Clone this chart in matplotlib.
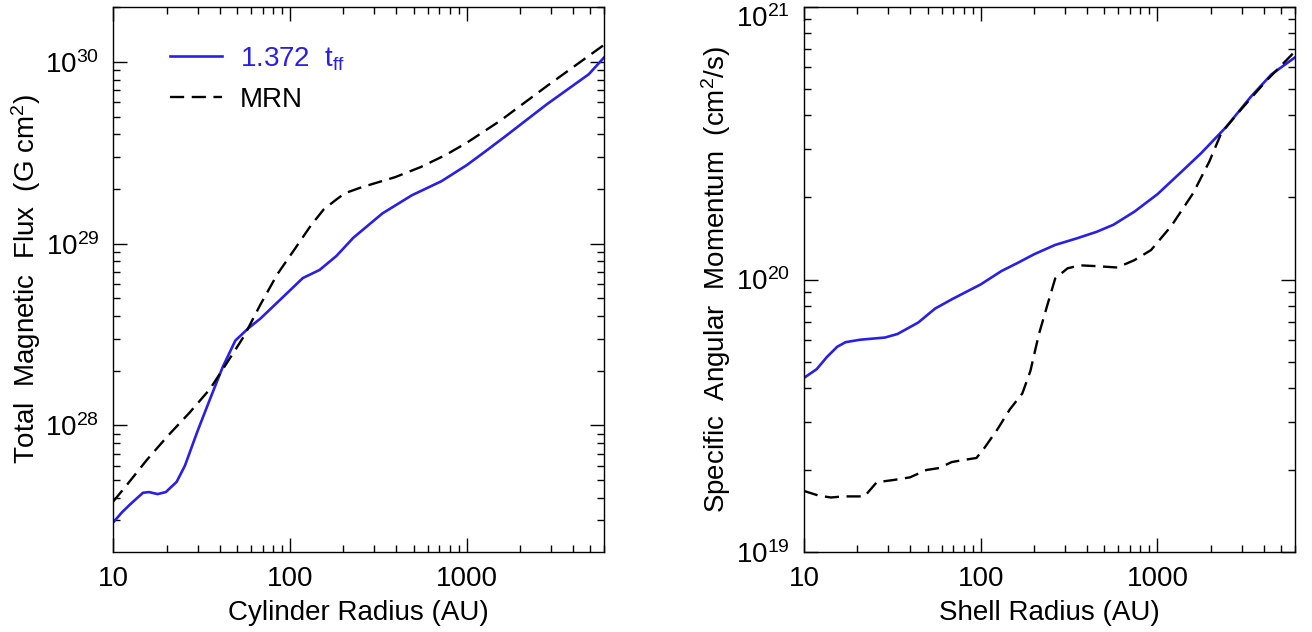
import numpy as np
import matplotlib.pyplot as plt
import matplotlib.ticker as ticker
from matplotlib.transforms import ScaledTranslation

plt.rcParams['font.family'] = ['Liberation Sans', 'DejaVu Sans']
plt.rcParams['mathtext.fontset'] = 'custom'
plt.rcParams['mathtext.rm'] = 'Liberation Sans'
plt.rcParams['mathtext.it'] = 'Liberation Sans'
plt.rcParams['font.size'] = 20

BLUE = '#2a1fe8'

# fluxo magnetico total vs raio do cilindro (AU, log10 G cm^2)
r_flux = [10, 11.2, 12.5, 14.7, 15.9, 17.8, 19.8, 22.8, 25.4, 29.9, 35.2, 41.6, 49.0,
          57.8, 68.1, 100, 118, 147, 183, 228, 333, 489, 718, 1000, 1240, 1640, 2830,
          4900, 6000]
logflux_tff = [27.467, 27.522, 27.567, 27.629, 27.633, 27.622, 27.633, 27.689, 27.778,
               27.967, 28.144, 28.322, 28.467, 28.533, 28.589, 28.744, 28.811, 28.856,
               28.933, 29.033, 29.167, 29.267, 29.344, 29.433, 29.500, 29.589, 29.767,
               29.933, 30.027]

r_flux_mrn = [10, 11.8, 15.5, 20.4, 26.8, 35.2, 43.9, 54.7, 68.1, 84.8, 105.6, 131, 155,
              183, 204, 254, 394, 548, 760, 1000, 1550, 2830, 6000]
logflux_mrn = [27.582, 27.667, 27.811, 27.944, 28.067, 28.200, 28.344, 28.489, 28.667,
               28.833, 28.967, 29.100, 29.189, 29.244, 29.278, 29.311, 29.367, 29.422,
               29.489, 29.556, 29.678, 29.867, 30.096]

# momento angular especifico vs raio da casca (AU, log10 cm^2/s)
r_j = [10, 11.8, 13.5, 15.4, 17.2, 20.8, 28.7, 33.8, 44.3, 55.1, 68.5, 100, 131, 162,
       201, 264, 346, 453, 564, 741, 1000, 1340, 1770, 2450, 3380, 4420, 6000]
logj_tff = [19.639, 19.671, 19.716, 19.753, 19.770, 19.779, 19.787, 19.800, 19.842,
            19.893, 19.927, 19.982, 20.031, 20.061, 20.093, 20.127, 20.150, 20.175,
            20.201, 20.249, 20.313, 20.390, 20.464, 20.560, 20.671, 20.753, 20.815]

r_j_mrn = [10, 12.1, 14.2, 16.7, 22.0, 25.8, 32.0, 39.8, 49.4, 58.1, 68.5, 80.5, 94.6,
           105, 124, 146, 172, 191, 213, 237, 264, 310, 364, 453, 593, 741, 920, 1200,
           1590, 1970, 2300, 3000, 4140, 6000]
logj_mrn = [19.224, 19.207, 19.200, 19.204, 19.204, 19.256, 19.264, 19.274, 19.301,
            19.308, 19.330, 19.338, 19.345, 19.382, 19.449, 19.523, 19.582, 19.664,
            19.797, 19.901, 20.004, 20.041, 20.052, 20.049, 20.044, 20.071, 20.108,
            20.197, 20.316, 20.434, 20.538, 20.627, 20.730, 20.837]


def estilo(ax, ylim):
    ax.set_xscale('log')
    ax.set_yscale('log')
    ax.set_xlim(10, 6000)
    ax.set_ylim(*ylim)
    ax.tick_params(which='both', direction='in', top=True, right=True, width=1)
    ax.tick_params(which='major', length=10, pad=10)
    ax.tick_params(which='minor', length=5)
    ax.xaxis.set_major_formatter(ticker.FuncFormatter(lambda v, p: f'{v:g}'))
    ax.xaxis.set_minor_formatter(ticker.NullFormatter())
    ax.yaxis.set_minor_formatter(ticker.NullFormatter())
    for s in ax.spines.values():
        s.set_linewidth(1)


fig = plt.figure(figsize=(13.12, 6.32), dpi=100)
ax1 = fig.add_axes([0.0864, 0.1266, 0.3742, 0.8623])
ax2 = fig.add_axes([0.6128, 0.1266, 0.3742, 0.8623])

dash = (0, (6, 3.2))

ax1.plot(r_flux, 10 ** np.array(logflux_tff), color=BLUE, lw=1.9,
         label=r'1.372  t$_{\mathrm{ff}}$')
ax1.plot(r_flux_mrn, 10 ** np.array(logflux_mrn), color='black', lw=1.7,
         linestyle=dash, label='MRN')
estilo(ax1, (2.01e27, 2.01e30))
ax1.set_xlabel('Cylinder Radius (AU)', labelpad=6)
ax1.set_ylabel(r'Total  Magnetic  Flux  (G cm$^2$)', labelpad=2)
ax1.legend(loc='upper left', bbox_to_anchor=(0.116, 0.93), frameon=False,
           handlelength=1.85, handletextpad=0.65, labelspacing=0.5, borderpad=0,
           borderaxespad=0, labelcolor=[BLUE, 'black'])

ax2.plot(r_j, 10 ** np.array(logj_tff), color=BLUE, lw=1.9)
ax2.plot(r_j_mrn, 10 ** np.array(logj_mrn), color='black', lw=1.7, linestyle=dash)
estilo(ax2, (1e19, 1e21))
ax2.set_xlabel('Shell Radius (AU)', labelpad=6)
ax2.set_ylabel(r'Specific  Angular  Momentum  (cm$^2$/s)', labelpad=2)

# rotulo do topo desce um pouco para caber na figura
fig.canvas.draw()
for tick in ax2.yaxis.get_major_ticks():
    if np.isclose(tick.get_loc(), 1e21):
        lab = tick.label1
        lab.set_transform(lab.get_transform() + ScaledTranslation(0, -0.09, fig.dpi_scale_trans))

fig.savefig('out.png', dpi=100)
